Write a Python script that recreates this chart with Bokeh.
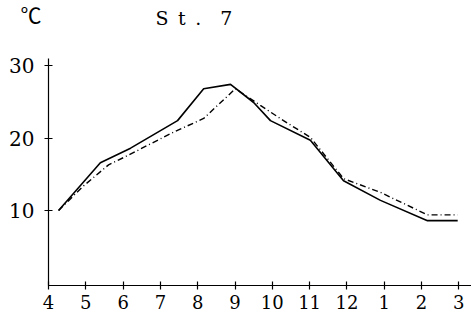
from bokeh.plotting import figure
from bokeh.models import FixedTicker, Range1d, Label
from bokeh.embed import file_html
from bokeh.resources import INLINE

# Month tick positions (continuous, Apr=4 ... Mar=15) and labels
tick_pos = [4, 5, 6, 7, 8, 9, 10, 11, 12, 13, 14, 15]
tick_labels = ["4", "5", "6", "7", "8", "9", "10", "11", "12", "1", "2", "3"]

# Solid series
solid_x = [4.27, 5.39, 6.20, 7.46, 8.16, 8.88, 9.50, 9.95, 11.02, 11.91, 12.90, 14.16, 14.97]
solid_y = [10.0, 16.6, 18.6, 22.4, 26.8, 27.4, 24.9, 22.4, 19.7, 14.1, 11.4, 8.6, 8.6]

# Dash-dot series
dash_x = [4.27, 4.94, 5.61, 6.01, 7.35, 8.16, 9.01, 9.68, 10.30, 11.02, 11.91, 12.90, 14.16, 14.97]
dash_y = [10.0, 13.4, 16.3, 17.3, 20.8, 22.7, 26.8, 24.5, 22.4, 20.1, 14.4, 12.5, 9.4, 9.4]

y_ticks = [10, 20, 30]

title_text = "S\u2002t\u2002.\u20037"
unit_text = "℃"

FONT = "DejaVu Serif"

X0, X1 = 2.713, 15.34
Y0, Y1 = -5.17, 38.97
AX_X0, AX_Y0, AX_Y1 = 4, -0.34, 31.0

p = figure(width=471, height=320, output_backend="svg", toolbar_location=None,
           x_range=Range1d(X0, X1), y_range=Range1d(Y0, Y1),
           min_border_left=0, min_border_right=0, min_border_top=0, min_border_bottom=0)
p.outline_line_color = None
p.xgrid.visible = False
p.ygrid.visible = False
p.background_fill_color = "white"
p.border_fill_color = "white"

p.line(solid_x, solid_y, line_color="black", line_width=1.6)
p.line(dash_x, dash_y, line_color="black", line_width=1.4, line_dash="6 3 1 3")

p.xaxis.ticker = FixedTicker(ticks=tick_pos)
p.xaxis.major_label_overrides = {t: l for t, l in zip(tick_pos, tick_labels)}
p.yaxis.ticker = FixedTicker(ticks=y_ticks)
p.xaxis.fixed_location = AX_Y0
p.yaxis.fixed_location = AX_X0
p.xaxis.bounds = (AX_X0, X1)
p.yaxis.bounds = (AX_Y0, AX_Y1)
for ax in (p.xaxis, p.yaxis):
    ax.axis_line_color = "black"
    ax.axis_line_width = 1.2
    ax.major_tick_line_color = "black"
    ax.major_tick_line_width = 1.2
    ax.major_tick_in = 4
    ax.major_tick_out = 4
    ax.minor_tick_line_color = None
    ax.major_label_text_font = FONT
    ax.major_label_text_color = "black"
p.xaxis.major_label_text_font_size = "18px"
p.xaxis.major_label_standoff = 6
p.yaxis.major_label_text_font_size = "20px"
p.yaxis.major_label_standoff = 10

p.add_layout(Label(x=3.25, y=35.0, text=unit_text,
                   text_font="Noto Sans CJK JP", text_font_size="21px",
                   text_color="black", text_baseline="bottom"))
p.add_layout(Label(x=6.87, y=35.0, text=title_text,
                   text_font=FONT, text_font_size="19px",
                   text_color="black", text_baseline="bottom"))

open("out.html", "w").write(file_html(p, INLINE))
